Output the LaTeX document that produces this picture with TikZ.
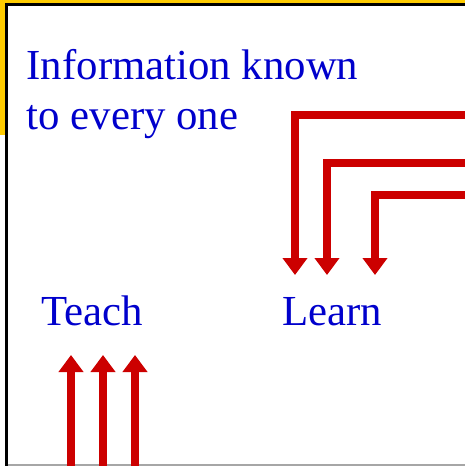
\documentclass[tikz,border=0pt]{standalone}
\usepackage{fontspec}
\setmainfont{Liberation Serif}
\usetikzlibrary{arrows.meta}
\definecolor{cblue}{rgb}{0, 0, 0.8}
\definecolor{cred}{rgb}{0.8, 0, 0}
\definecolor{cyellow}{rgb}{1, 0.8, 0}

\begin{document}
\begin{tikzpicture}[x=1pt,y=-1pt,line join=miter,
  red arrow/.style={draw=cred,line width=8pt,-{Triangle[width=24pt,length=17pt]}},
  main text/.style={text=cblue,font=\fontsize{42.8}{50}\selectfont,inner sep=0pt,anchor=base west}]
  \useasboundingbox (0,0) rectangle (465,466);
  % slide frame
  \fill[cyellow] (0,0) rectangle (465,135);
  \filldraw[fill=white,draw=black,line width=2.8pt] (6.5,4.2) rectangle (480,480);
  \draw[gray!70,line width=1.5pt] (7.8,465) -- (465,465);

  \node[main text] (info) at (26.5,79) {Information known};
  \node[main text] (every) at (26.5,129) {to every one};
  \node[main text] (teach) at (41,325) {Teach};
  \node[main text] (learn) at (282,325) {Learn};

  % arrows into Learn
  \coordinate (in1) at (470,115);
  \coordinate (in2) at (470,163);
  \coordinate (in3) at (470,195);
  \coordinate (tip1) at (295,275);
  \coordinate (tip2) at (327,275);
  \coordinate (tip3) at (375,275);
  \draw[red arrow] (in1) -| (tip1);
  \draw[red arrow] (in2) -| (tip2);
  \draw[red arrow] (in3) -| (tip3);

  % arrows up to Teach
  \foreach \x/\n in {71/1,103/2,135/3} {
    \coordinate (out\n) at (\x,470);
    \coordinate (top\n) at (\x,355);
    \draw[red arrow] (out\n) -- (top\n);
  }
\end{tikzpicture}
\end{document}
